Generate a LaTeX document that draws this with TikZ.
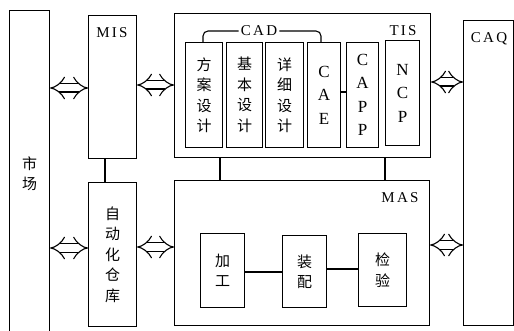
\documentclass[tikz,border=0pt]{standalone}
\usepackage{fontspec}
\setmainfont{Liberation Serif}
\newfontfamily\cjk{Noto Sans CJK SC}
\newfontfamily\lbl[LetterSpace=15]{Liberation Serif}
\usetikzlibrary{arrows.meta}

\begin{document}
\begin{tikzpicture}[x=1pt, y=-1pt,
    box/.style={draw, line width=1.1pt, inner sep=0pt, anchor=north west},
    zh/.style={font=\cjk\fontsize{15}{20.5}\selectfont, align=center},
    en/.style={font=\fontsize{17}{23.5}\selectfont, align=center},
    tag/.style={font=\lbl\fontsize{15}{15}\selectfont, inner sep=2pt},
    wide/.style={double, double distance=7pt, line width=1.1pt,
        {Implies[length=7pt, width=20pt]}-{Implies[length=7pt, width=20pt]}},
    link/.style={line width=1.1pt}
]
    \useasboundingbox (0,0) rectangle (514,331);

    % Outer columns
    \node[box, zh, minimum width=40pt, minimum height=326pt] (mkt) at (9,10) {市\\场};
    \node[box, minimum width=48pt, minimum height=143pt] (mis) at (88,15) {};
    \node[box, zh, minimum width=48pt, minimum height=144pt] (wh) at (88,182) {自\\动\\化\\仓\\库};
    \node[box, minimum width=50pt, minimum height=305pt] (caq) at (463,20) {};

    % Design block
    \node[box, minimum width=256pt, minimum height=144pt] (tis) at (174,13) {};
    \node[box, zh, minimum width=37pt, minimum height=105pt] (fa) at (185,42) {方\\案\\设\\计};
    \node[box, zh, minimum width=36pt, minimum height=105pt] (jb) at (226,42) {基\\本\\设\\计};
    \node[box, zh, minimum width=38pt, minimum height=105pt] (xx) at (265,42) {详\\细\\设\\计};
    \node[box, en, minimum width=33pt, minimum height=105pt] (cae) at (307,42) {C\\A\\E};
    \node[box, en, minimum width=32pt, minimum height=105pt] (capp) at (346,42) {C\\A\\P\\P};
    \node[box, en, minimum width=34pt, minimum height=105pt] (ncp) at (385,40) {N\\C\\P};

    % Manufacturing block
    \node[box, minimum width=255pt, minimum height=145pt] (mas) at (174,180) {};
    \node[box, zh, minimum width=44pt, minimum height=74pt] (jg) at (200,233) {加\\工};
    \node[box, zh, minimum width=44pt, minimum height=72pt] (zp) at (282,235) {装\\配};
    \node[box, zh, minimum width=48pt, minimum height=73pt] (jy) at (358,233) {检\\验};

    % Labels
    \node[tag] at (112,33) {MIS};
    \node[tag] at (403,31) {TIS};
    \node[tag] at (489,39) {CAQ};
    \node[tag] at (400,198) {MAS};
    \node[tag] (cad) at (259,31) {CAD};
    \draw[link, rounded corners=5pt] (fa.north -| 203,0) |- (cad.west);
    \draw[link, rounded corners=5pt] (cad.east) -| (cae.north -| 321,0);

    % Plain links
    \draw[link] (mis.south -| 105,0) -- (wh.north -| 105,0);
    \draw[link] (tis.south -| 220,0) -- (mas.north -| 220,0);
    \draw[link] (tis.south -| 385,0) -- (mas.north -| 385,0);
    \draw[link] (cae.east |- 0,92) -- (capp.west |- 0,92);
    \draw[link] (jg.east |- 0,272) -- (zp.west |- 0,272);
    \draw[link] (zp.east |- 0,269) -- (jy.west |- 0,269);

    % Wide two-way arrows
    \draw[wide] (mkt.east |- 0,88) -- (mis.west |- 0,88);
    \draw[wide] (mis.east |- 0,85) -- (tis.west |- 0,85);
    \draw[wide] (tis.east |- 0,82) -- (caq.west |- 0,82);
    \draw[wide] (mkt.east |- 0,248) -- (wh.west |- 0,248);
    \draw[wide] (wh.east |- 0,247) -- (mas.west |- 0,247);
    \draw[wide] (mas.east |- 0,245) -- (caq.west |- 0,245);
\end{tikzpicture}
\end{document}
